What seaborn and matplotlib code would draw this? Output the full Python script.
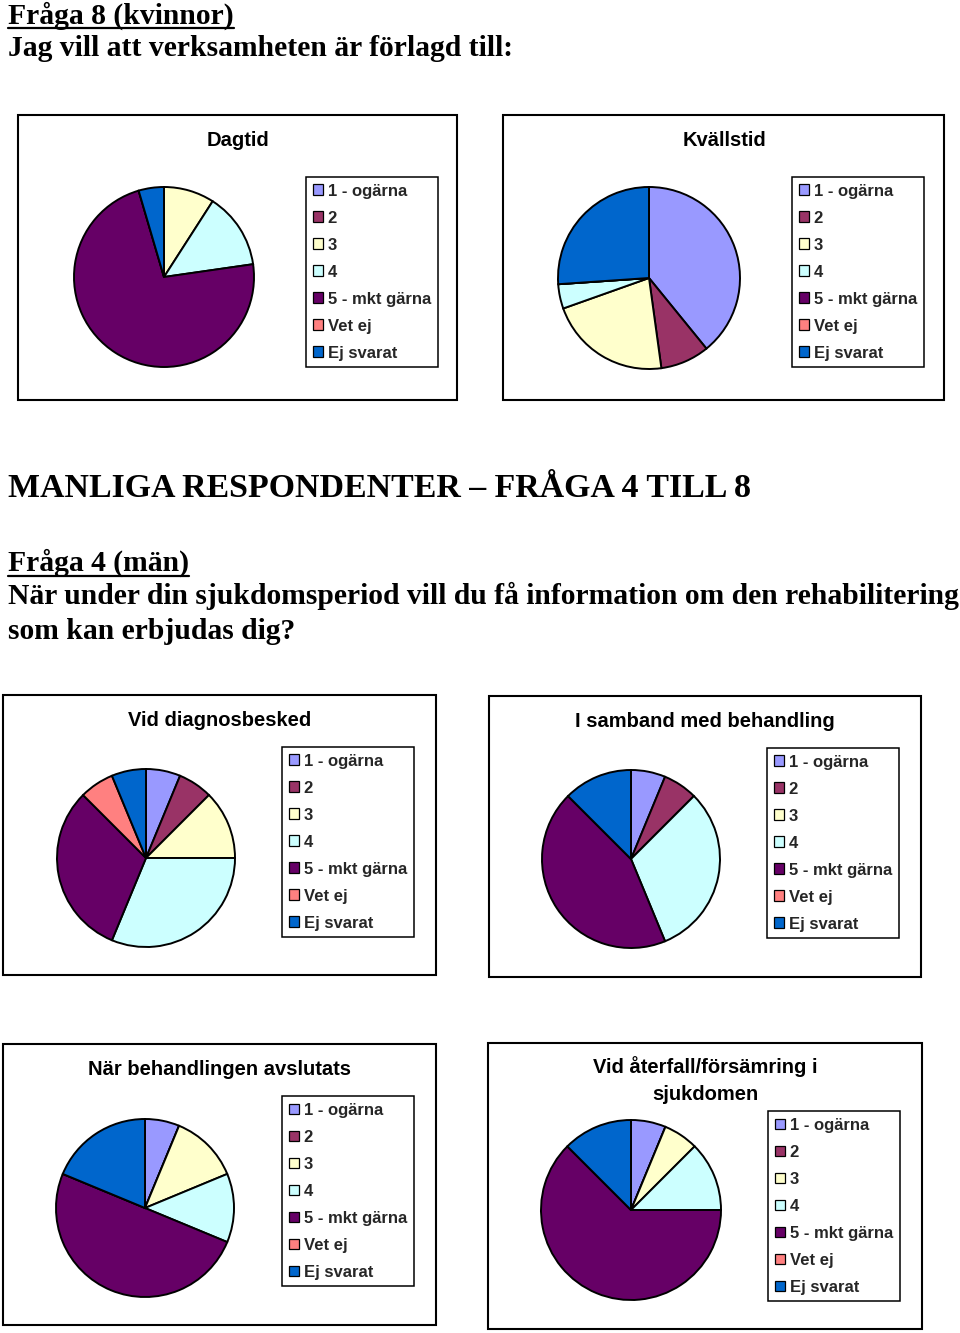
import matplotlib
matplotlib.use("Agg")
import matplotlib.pyplot as plt
import seaborn as sns
from matplotlib.patches import Rectangle
from matplotlib.lines import Line2D

# ---------------- data ----------------
categories = ["1 - ogärna", "2", "3", "4", "5 - mkt gärna", "Vet ej", "Ej svarat"]
colors = ["#9999FF", "#993366", "#FFFFCC", "#CCFFFF", "#660066", "#FF8080", "#0066CC"]

dagtid = [0, 0, 2, 3, 16, 0, 1]
kvallstid = [9, 2, 5, 1, 0, 0, 6]
diagnos = [1, 1, 2, 5, 5, 1, 1]
behandling = [1, 1, 0, 5, 7, 0, 2]
avslutats = [1, 0, 2, 2, 8, 0, 3]
aterfall = [1, 0, 1, 2, 10, 0, 2]

titles = ["Dagtid", "Kvällstid", "Vid diagnosbesked", "I samband med behandling",
          "När behandlingen avslutats", ["Vid återfall/försämring i", "sjukdomen"]]
series = [dagtid, kvallstid, diagnos, behandling, avslutats, aterfall]

# ---------------- style ----------------
sns.set_theme(style="white")
plt.rcParams['font.family'] = ['Liberation Sans', 'DejaVu Sans']

W, H = 960, 1333
fig = plt.figure(figsize=(W / 100, H / 100), dpi=100)
fig.patch.set_facecolor("white")

def fx(x):
    return x / W

def fy(y):
    return 1 - y / H

# layout (pixels)
boxes = [(18, 115, 457, 400), (503, 115, 944, 400), (3, 695, 436, 975),
         (489, 696, 921, 977), (3, 1044, 436, 1325), (488, 1043, 922, 1329)]
pies = [(164, 277, 90), (649, 278, 91), (146, 858, 89),
        (631, 859, 89), (145, 1208, 89), (631, 1210, 90)]
title_pos = [(238, [146]), (724, [146]), (220, [726]), (705, [727]),
             (220, [1075]), (705, [1073, 1100])]
legend_pos = [(306, 177), (792, 177), (282, 747), (767, 748), (282, 1096), (768, 1111)]

serif = ['Liberation Serif', 'DejaVu Serif']

# headings
heads = [
    ("Fråga 8 (kvinnor)", 23.5, 21.3, True),
    ("Jag vill att verksamheten är förlagd till:", 56, 21.3, False),
    ("MANLIGA RESPONDENTER – FRÅGA 4 TILL 8", 497, 24.4, False),
    ("Fråga 4 (män)", 571, 21.3, True),
    ("När under din sjukdomsperiod vill du få information om den rehabilitering", 604, 21.3, False),
    ("som kan erbjudas dig?", 639, 21.3, False),
]
head_texts = []
for txt, yb, size, ul in heads:
    t = fig.text(fx(8), fy(yb), txt, family=serif, fontweight='bold', fontsize=size,
                 color='black', ha='left', va='baseline')
    head_texts.append((t, yb, ul))

# boxes
for (x0, y0, x1, y1) in boxes:
    fig.patches.append(Rectangle((fx(x0), fy(y1)), fx(x1 - x0), (y1 - y0) / H,
                                 transform=fig.transFigure, fill=False,
                                 edgecolor='black', linewidth=1.5))

# pies
for vals, (cx, cy, r), tpos, lpos, title in zip(series, pies, title_pos, legend_pos, titles):
    pad = 1.06
    ax = fig.add_axes([fx(cx - r * pad), fy(cy + r * pad), 2 * r * pad / W, 2 * r * pad / H])
    wedges, _ = ax.pie(vals, colors=colors, startangle=90, counterclock=False,
                       radius=1, wedgeprops=dict(edgecolor='black', linewidth=1.4))
    ax.set_xlim(-pad, pad)
    ax.set_ylim(-pad, pad)
    ax.set_aspect('equal')
    ax.axis('off')

    lines = title if isinstance(title, list) else [title]
    for line, yb in zip(lines, tpos[1]):
        fig.text(fx(tpos[0]), fy(yb), line, fontsize=14.5, fontweight='bold',
                 ha='center', va='baseline', color='black')

    leg = ax.legend(wedges, categories, loc='upper left',
                    bbox_to_anchor=(fx(lpos[0]), fy(lpos[1])),
                    bbox_transform=fig.transFigure, borderaxespad=0,
                    frameon=True, fancybox=False, shadow=False,
                    prop=dict(family=['Liberation Sans', 'DejaVu Sans'], weight='bold', size=12),
                    handlelength=0.6, handleheight=0.6, handletextpad=0.3,
                    labelspacing=0.72, borderpad=0.4)
    fr = leg.get_frame()
    fr.set_edgecolor('black')
    fr.set_linewidth(1.1)
    fr.set_facecolor('white')
    fr.set_alpha(1)
    for h in leg.legend_handles:
        h.set_edgecolor('black')
        h.set_linewidth(0.9)

# underline headings
fig.canvas.draw()
renderer = fig.canvas.get_renderer()
for t, yb, ul in head_texts:
    if ul:
        bb = t.get_window_extent(renderer)
        yu = yb + 4.5
        fig.add_artist(Line2D([bb.x0 / W, bb.x1 / W], [fy(yu), fy(yu)],
                              transform=fig.transFigure, color='black', linewidth=1.6))

fig.savefig("out.png", dpi=100, facecolor='white')
